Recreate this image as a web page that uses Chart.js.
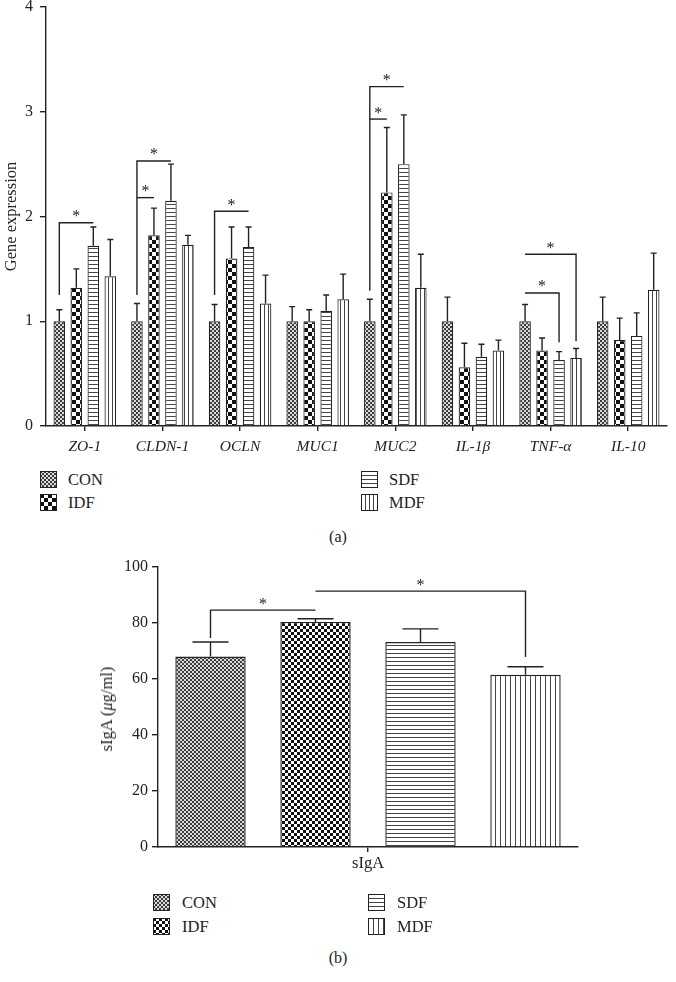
<!DOCTYPE html>
<html lang="en">
<head>
  <meta charset="UTF-8">
  <title>Gene expression and sIgA</title>
  <style>
    body {
      margin: 0;
      width: 676px;
      height: 982px;
      position: relative;
      overflow: hidden;
      background: #fff;
      color: #222;
      font-family: 'Liberation Serif', 'DejaVu Serif', serif;
    }
    canvas.chart { position: absolute; left: 0; }
    #chartA { top: 0; }
    #chartB { top: 545px; }
    .item {
      position: absolute;
      display: flex;
      align-items: center;
      white-space: nowrap;
      line-height: 17px;
      font-size: 16.5px;
    }
    .caption {
      position: absolute;
      left: 0;
      width: 676px;
      text-align: center;
      font-size: 16px;
      line-height: 18px;
    }
    #titleB {
      position: absolute;
      left: 107px;
      top: 709px;
      transform: translate(-50%, -50%) rotate(-90deg);
      font-size: 16.5px;
      color: #222;
      white-space: nowrap;
    }
  </style>
</head>
<body>
  <canvas class="chart" id="chartA" width="676" height="470"></canvas>
  <div id="legendA"></div>
  <div class="caption" style="top:528px">(a)</div>

  <canvas class="chart" id="chartB" width="676" height="335"></canvas>
  <div id="titleB">sIgA (<i>μ</i>g/ml)</div>
  <div id="legendB"></div>
  <div class="caption" style="top:949px">(b)</div>

  <script src="https://cdn.jsdelivr.net/npm/chart.js"></script>
  <script>
    // (a) gene expression
    const genes = ['ZO-1', 'CLDN-1', 'OCLN', 'MUC1', 'MUC2', 'IL-1β', 'TNF-α', 'IL-10'];
    const groups = ['CON', 'IDF', 'SDF', 'MDF'];
    const conMean = [1.00, 1.00, 1.00, 1.00, 1.00, 1.00, 1.00, 1.00];
    const conErr  = [0.11, 0.17, 0.16, 0.14, 0.21, 0.23, 0.16, 0.23];
    const idfMean = [1.32, 1.82, 1.60, 1.00, 2.23, 0.56, 0.72, 0.82];
    const idfErr  = [0.18, 0.26, 0.30, 0.11, 0.62, 0.23, 0.12, 0.21];
    const sdfMean = [1.72, 2.15, 1.71, 1.10, 2.50, 0.66, 0.63, 0.86];
    const sdfErr  = [0.18, 0.35, 0.19, 0.15, 0.47, 0.12, 0.08, 0.22];
    const mdfMean = [1.43, 1.73, 1.17, 1.21, 1.32, 0.72, 0.65, 1.30];
    const mdfErr  = [0.35, 0.09, 0.27, 0.24, 0.32, 0.10, 0.09, 0.35];
    const geneTicks = [0, 1, 2, 3, 4];

    // (b) sIgA
    const sigaLabels = ['sIgA'];
    const sigaMean = [68.0, 80.4, 73.2, 61.5];
    const sigaErr  = [5.2, 1.1, 4.7, 2.9];
    const sigaTicks = [0, 20, 40, 60, 80, 100];

    // significance brackets: category, from group, to group, bar height, drops
    const geneSig = [
      { cat: 0, a: 0, b: 2, y: 1.94, dropA: 1.25 },
      { cat: 1, a: 0, b: 2, y: 2.53, dropA: 1.25 },
      { cat: 1, a: 0, b: 1, y: 2.18 },
      { cat: 2, a: 0, b: 2, y: 2.05, dropA: 1.25 },
      { cat: 4, a: 0, b: 2, y: 3.24, dropA: 1.29 },
      { cat: 4, a: 0, b: 1, y: 2.93 },
      { cat: 6, a: 0, b: 3, y: 1.64, dropB: 0.81 },
      { cat: 6, a: 0, b: 2, y: 1.27, dropB: 0.80 }
    ];
    const sigaSig = [
      { cat: 0, a: 0, b: 1, y: 84.6, dropA: 74.6 },
      { cat: 0, a: 1, b: 3, y: 91.4, dropB: 67.9 }
    ];

    const ink = '#222';
    const serif = "'Liberation Serif', 'DejaVu Serif', serif";

    function makePattern(kind, s) {
      const c = document.createElement('canvas');
      const g = c.getContext('2d');
      if (kind === 'CON') {
        c.width = c.height = 4;
        g.fillStyle = '#dadada'; g.fillRect(0, 0, 4, 4);
        g.fillStyle = '#3c3c3c'; g.fillRect(0, 0, 2, 2); g.fillRect(2, 2, 2, 2);
      } else if (kind === 'IDF') {
        c.width = c.height = 2 * s;
        g.fillStyle = '#fff'; g.fillRect(0, 0, 2 * s, 2 * s);
        g.fillStyle = '#111'; g.fillRect(0, 0, s, s); g.fillRect(s, s, s, s);
      } else if (kind === 'SDF') {
        c.width = 4; c.height = s;
        g.fillStyle = '#fff'; g.fillRect(0, 0, 4, s);
        g.fillStyle = '#444'; g.fillRect(0, 0, 4, 1);
      } else {
        c.width = s; c.height = 4;
        g.fillStyle = '#fff'; g.fillRect(0, 0, s, 4);
        g.fillStyle = '#444'; g.fillRect(0, 0, 1, 4);
      }
      return g.createPattern(c, 'repeat');
    }

    function errorBars(cap) {
      return {
        id: 'errorBars',
        afterDatasetsDraw(chart) {
          const ctx = chart.ctx, ys = chart.scales.y;
          ctx.save();
          ctx.strokeStyle = ink;
          ctx.lineWidth = 1.4;
          chart.data.datasets.forEach((ds, i) => {
            chart.getDatasetMeta(i).data.forEach((bar, j) => {
              const top = ys.getPixelForValue(ds.data[j] + ds.errors[j]);
              ctx.beginPath();
              ctx.moveTo(bar.x, bar.y);
              ctx.lineTo(bar.x, top);
              ctx.moveTo(bar.x - cap / 2, top);
              ctx.lineTo(bar.x + cap / 2, top);
              ctx.stroke();
            });
          });
          ctx.restore();
        }
      };
    }

    function brackets(list, starSize) {
      return {
        id: 'brackets',
        afterDatasetsDraw(chart) {
          const ctx = chart.ctx, ys = chart.scales.y;
          ctx.save();
          ctx.strokeStyle = ink;
          ctx.fillStyle = ink;
          ctx.lineWidth = 1.4;
          ctx.font = starSize + 'px ' + serif;
          ctx.textAlign = 'center';
          ctx.textBaseline = 'alphabetic';
          list.forEach(b => {
            const xa = chart.getDatasetMeta(b.a).data[b.cat].x;
            const xb = chart.getDatasetMeta(b.b).data[b.cat].x;
            const yy = ys.getPixelForValue(b.y);
            ctx.beginPath();
            if (b.dropA != null) {
              ctx.moveTo(xa, ys.getPixelForValue(b.dropA));
              ctx.lineTo(xa, yy);
            } else {
              ctx.moveTo(xa, yy);
            }
            ctx.lineTo(xb, yy);
            if (b.dropB != null) ctx.lineTo(xb, ys.getPixelForValue(b.dropB));
            ctx.stroke();
            ctx.fillText('*', (xa + xb) / 2, yy - 1.5);
          });
          ctx.restore();
        }
      };
    }

    function fixed(width, height) {
      return s => {
        if (width != null) s.width = width;
        if (height != null) s.height = height;
        s.paddingTop = 0; s.paddingBottom = 0;
        s.paddingLeft = 0; s.paddingRight = 0;
      };
    }

    function buildLegend(el, pat, col1, col2, swGap, top1, top2) {
      const lefts = [col1, col1, col2, col2];
      const tops = [top1, top2, top1, top2];
      groups.forEach((g, i) => {
        const item = document.createElement('div');
        item.className = 'item';
        item.style.left = lefts[i] + 'px';
        item.style.top = tops[i] + 'px';
        const sw = document.createElement('canvas');
        sw.width = 17; sw.height = 17;
        sw.style.marginRight = swGap + 'px';
        const c = sw.getContext('2d');
        c.fillStyle = pat[i];
        c.fillRect(0, 0, 17, 17);
        c.strokeStyle = ink;
        c.lineWidth = 1;
        c.strokeRect(0.5, 0.5, 16, 16);
        item.appendChild(sw);
        item.appendChild(document.createTextNode(g));
        el.appendChild(item);
      });
    }

    // ---------- chart (a)
    const patA = [makePattern('CON'), makePattern('IDF', 4), makePattern('SDF', 4), makePattern('MDF', 4)];
    const meansA = [conMean, idfMean, sdfMean, mdfMean];
    const errsA = [conErr, idfErr, sdfErr, mdfErr];

    new Chart(document.getElementById('chartA'), {
      type: 'bar',
      data: {
        labels: genes,
        datasets: groups.map((g, i) => ({
          label: g,
          data: meansA[i],
          errors: errsA[i],
          backgroundColor: patA[i],
          borderColor: ink,
          borderWidth: 1.2,
          categoryPercentage: 0.876,
          barPercentage: 0.68
        }))
      },
      options: {
        responsive: false,
        animation: false,
        layout: { padding: { top: 7, right: 9, left: 0, bottom: 0 } },
        plugins: { legend: { display: false }, tooltip: { enabled: false } },
        scales: {
          x: {
            afterFit: fixed(null, 44),
            grid: { offset: false, drawOnChartArea: false, tickLength: 5, color: ink, lineWidth: 1.4 },
            border: { color: ink, width: 1.4 },
            ticks: { color: ink, padding: 7, font: { family: serif, size: 15.5, style: 'italic' } }
          },
          y: {
            min: 0, max: 4,
            afterFit: fixed(46, null),
            afterBuildTicks: s => { s.ticks = geneTicks.map(v => ({ value: v })); },
            grid: { drawOnChartArea: false, tickLength: 6, color: ink, lineWidth: 1.4 },
            border: { color: ink, width: 1.4 },
            ticks: { color: ink, padding: 7, font: { family: serif, size: 16 } },
            title: { display: true, text: 'Gene expression', color: ink, padding: { top: 2, bottom: 0 }, font: { family: serif, size: 16.5 } }
          }
        }
      },
      plugins: [errorBars(6), brackets(geneSig, 16)]
    });
    buildLegend(document.getElementById('legendA'), patA, 40, 361, 11, 471, 494);

    // ---------- chart (b)
    const patB = [makePattern('CON'), makePattern('IDF', 3), makePattern('SDF', 4), makePattern('MDF', 5)];

    new Chart(document.getElementById('chartB'), {
      type: 'bar',
      data: {
        labels: sigaLabels,
        datasets: groups.map((g, i) => ({
          label: g,
          data: [sigaMean[i]],
          errors: [sigaErr[i]],
          backgroundColor: patB[i],
          borderColor: ink,
          borderWidth: 1.4,
          categoryPercentage: 1.0,
          barPercentage: 0.67
        }))
      },
      options: {
        responsive: false,
        animation: false,
        layout: { padding: { top: 22, right: 98, left: 0, bottom: 0 } },
        plugins: { legend: { display: false }, tooltip: { enabled: false } },
        scales: {
          x: {
            afterFit: fixed(null, 33),
            grid: { offset: false, drawOnChartArea: false, tickLength: 5, color: ink, lineWidth: 1.4 },
            border: { color: ink, width: 1.4 },
            ticks: { color: ink, padding: 2, font: { family: serif, size: 16.5 } }
          },
          y: {
            min: 0, max: 100,
            afterFit: fixed(158, null),
            afterBuildTicks: s => { s.ticks = sigaTicks.map(v => ({ value: v })); },
            grid: { drawOnChartArea: false, tickLength: 6, color: ink, lineWidth: 1.4 },
            border: { color: ink, width: 1.4 },
            ticks: { color: ink, padding: 4, font: { family: serif, size: 16 } }
          }
        }
      },
      plugins: [errorBars(36), brackets(sigaSig, 16)]
    });
    buildLegend(document.getElementById('legendB'), patB, 153, 368, 12, 894, 918);
  </script>
</body>
</html>
